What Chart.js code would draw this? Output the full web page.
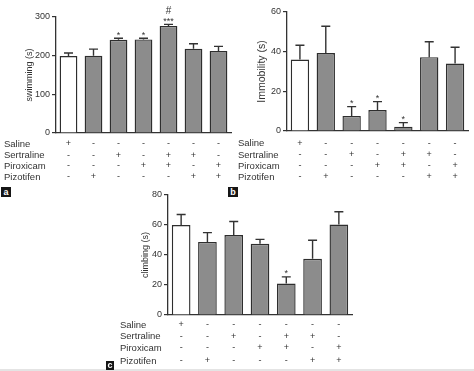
<!DOCTYPE html>
<html><head><meta charset="utf-8">
<script src="https://cdn.jsdelivr.net/npm/chart.js@4/dist/chart.umd.min.js"></script>
<style>
html,body{margin:0;padding:0;background:#fff}
body{width:474px;height:371px;position:relative;overflow:hidden;font-family:"Liberation Sans",Arial,sans-serif}
.cv{position:absolute}
.tag{position:absolute;background:#161616;color:#fff;font:bold 9px "Liberation Sans",Arial,sans-serif;text-align:center;line-height:10px}
#band{position:absolute;left:0;top:369px;width:474px;height:2px;background:#e4e4e4}
</style>
</head><body>
<div class="cv" style="left:0;top:0;width:237px;height:200px"><canvas id="ca"></canvas></div>
<div class="cv" style="left:237px;top:0;width:237px;height:200px"><canvas id="cb"></canvas></div>
<div class="cv" style="left:100px;top:185px;width:260px;height:186px"><canvas id="cc"></canvas></div>
<div id="band"></div>
<div class="tag" style="left:1px;top:187px;width:10px;height:10px">a</div>
<div class="tag" style="left:228px;top:187px;width:10px;height:10px">b</div>
<div class="tag" style="left:106px;top:361px;width:8px;height:9px;line-height:9px">c</div>
<script>
// ---- data ----
const groups = ['G1','G2','G3','G4','G5','G6','G7'];
const rowLabels = ['Saline','Sertraline','Piroxicam','Pizotifen'];
const saline     = ['+','-','-','-','-','-','-'];
const sertraline = ['-','-','+','-','+','+','-'];
const piroxicam  = ['-','-','-','+','+','-','+'];
const pizotifen  = ['-','+','-','-','-','+','+'];

const swimming    = [199, 200, 241, 242, 277, 218, 212];
const swimmingErr = [8, 17, 4, 3, 4, 13, 12];
const swimmingSig = ['', '', '*', '*', '***', '', ''];
const swimmingHash= ['', '', '', '', '#', '', ''];

const immobility    = [36, 39.3, 7.6, 10.6, 2.2, 37.2, 34];
const immobilityErr = [7.2, 13.5, 4.7, 4.2, 2, 7.8, 8.2];
const immobilitySig = ['', '', '*', '*', '*', '', ''];

const climbing    = [60, 48.7, 53.3, 47.5, 21, 37.5, 60.3];
const climbingErr = [7, 6.2, 9, 2.9, 4.4, 12.3, 8.5];
const climbingSig = ['', '', '', '', '*', '', ''];

const yTicksA = [0, 100, 200, 300];
const yTicksB = [0, 20, 40, 60];
const yTicksC = [0, 20, 40, 60, 80];

// ---- style ----
const TXT = '#333333';
const AX = '#333333';
const FONT = '"Liberation Sans", Arial, sans-serif';
const barFill = groups.map((g,i)=> i===0 ? '#ffffff' : '#8c8c8c');

const extras = {
  id: 'extras',
  afterDatasetsDraw(chart, args, o) {
    const ctx = chart.ctx;
    const meta = chart.getDatasetMeta(0);
    const ys = chart.scales.y, xs = chart.scales.x;
    const vals = chart.data.datasets[0].data;
    ctx.save();
    ctx.strokeStyle = '#333333';
    ctx.lineWidth = 1.4;
    ctx.fillStyle = TXT;
    meta.data.forEach((el, i) => {
      const x = el.x;
      const yTop = ys.getPixelForValue(vals[i] + o.err[i]);
      ctx.beginPath();
      ctx.moveTo(x, el.y);
      ctx.lineTo(x, yTop);
      ctx.moveTo(x - 4.5, yTop);
      ctx.lineTo(x + 4.5, yTop);
      ctx.stroke();
      ctx.textAlign = 'center';
      ctx.textBaseline = 'alphabetic';
      if (o.sig[i]) {
        ctx.font = '9px ' + FONT;
        ctx.fillText(o.sig[i], x, yTop - 0.5);
      }
      if (o.hash && o.hash[i]) {
        ctx.font = '10px ' + FONT;
        ctx.fillText(o.hash[i], x, yTop - 10);
      }
    });
    // table
    const rows = [saline, sertraline, piroxicam, pizotifen];
    ctx.textBaseline = 'middle';
    rows.forEach((r, k) => {
      const y = o.rowY[k];
      ctx.font = '9.5px ' + FONT;
      ctx.textAlign = 'left';
      ctx.fillStyle = TXT;
      ctx.fillText(rowLabels[k], o.labelX, y);
      ctx.textAlign = 'center';
      ctx.font = '9px ' + FONT;
      r.forEach((s, i) => {
        ctx.fillText(s, xs.getPixelForValue(i), y);
      });
    });
    ctx.restore();
  }
};

function make(id, data, ticks, max, title, titleSize, titleX, axisW, pad, ex) {
  return new Chart(document.getElementById(id), {
    type: 'bar',
    data: { labels: groups, datasets: [{
      data: data, backgroundColor: barFill, borderColor: '#2e2e2e', borderWidth: 1.4,
      barPercentage: 0.71, categoryPercentage: 1.0
    }]},
    options: {
      responsive: true, maintainAspectRatio: false, animation: false,
      devicePixelRatio: 1,
      layout: { padding: pad },
      plugins: { legend: {display:false}, tooltip: {enabled:false}, extras: ex },
      scales: {
        x: {
          grid: { display: false, drawTicks: false },
          border: { display: true, color: AX, width: 1.3 },
          ticks: { display: false },
          afterFit(s) { s.height = 0; }
        },
        y: {
          min: 0, max: max,
          afterBuildTicks(s) { s.ticks = ticks.map(v => ({value: v})); },
          grid: { drawOnChartArea: false, drawTicks: true, tickLength: 4, color: AX, lineWidth: 1.2 },
          border: { display: true, color: AX, width: 1.3 },
          ticks: { color: TXT, font: { size: 9, family: FONT }, padding: 2 },
          title: { display: true, text: title, color: TXT, font: { size: titleSize, family: FONT },
                   padding: { top: titleX, bottom: 0 } },
          afterFit(s) { s.width = axisW; }
        }
      }
    },
    plugins: [extras]
  });
}

make('ca', swimming, yTicksA, 300, 'swimming (s)', 9, 24, 56,
  { left: 0, top: 17, right: 6, bottom: 67 },
  { err: swimmingErr, sig: swimmingSig, hash: swimmingHash, rowY: [144, 155.5, 166, 177], labelX: 4 });

make('cb', immobility, yTicksB, 60, 'Immobility (s)', 10.5, 19, 50,
  { left: 0, top: 12, right: 6, bottom: 69 },
  { err: immobilityErr, sig: immobilitySig, rowY: [143.5, 155, 166, 177], labelX: 1 });

make('cc', climbing, yTicksC, 80, 'climbing (s)', 9, 40, 68,
  { left: 0, top: 10, right: 8, bottom: 56 },
  { err: climbingErr, sig: climbingSig, rowY: [140, 151.5, 163, 176], labelX: 20 });
</script>
</body></html>
